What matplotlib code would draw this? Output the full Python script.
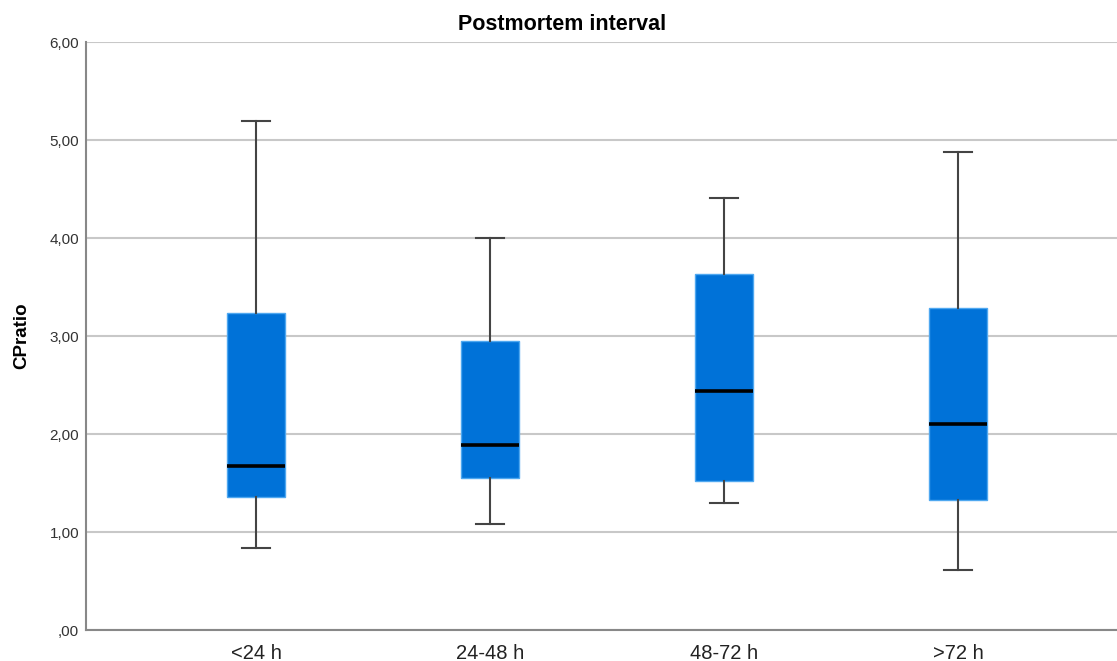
import matplotlib
matplotlib.use("Agg")
import matplotlib.pyplot as plt
from matplotlib.ticker import FuncFormatter

categories = ["<24 h", "24-48 h", "48-72 h", ">72 h"]
whisker_low = [0.84, 1.08, 1.30, 0.61]
q1 = [1.36, 1.55, 1.52, 1.33]
median = [1.67, 1.89, 2.44, 2.10]
q3 = [3.23, 2.95, 3.63, 3.29]
whisker_high = [5.19, 4.00, 4.41, 4.88]
y_ticks = [0, 1, 2, 3, 4, 5, 6]

plt.rcParams['font.family'] = ['Liberation Sans', 'DejaVu Sans']

fig = plt.figure(figsize=(11.17, 6.61), dpi=100)
ax = fig.add_axes([86/1117, 1 - 630/661, (1117-86)/1117, (630-42)/661])

stats = []
for i, c in enumerate(categories):
    stats.append(dict(label=c, whislo=whisker_low[i], q1=q1[i], med=median[i],
                      q3=q3[i], whishi=whisker_high[i], fliers=[]))

positions = list(range(len(categories)))
ax.bxp(stats, positions=positions, widths=0.248, patch_artist=True,
       showfliers=False, manage_ticks=False,
       boxprops=dict(facecolor='#0072D8', edgecolor='#4FA8F0', linewidth=1.0),
       medianprops=dict(color='#000000', linewidth=2.6, solid_capstyle='butt'),
       whiskerprops=dict(color='#444444', linewidth=1.5),
       capprops=dict(color='#444444', linewidth=1.5),
       capwidths=0.12, zorder=3)

ax.set_xlim(-0.727, 3.68)
ax.set_ylim(0, 6)
ax.set_yticks(y_ticks)
def fmt(v, pos):
    s = f"{v:.2f}".replace('.', ',')
    if s.startswith('0'):
        s = s[1:]
    return s
ax.yaxis.set_major_formatter(FuncFormatter(fmt))
ax.set_xticks(positions)
ax.set_xticklabels(categories, fontsize=14.5, color='#222222')
ax.tick_params(axis='y', labelsize=11, colors='#333333', length=0, pad=5)
ax.tick_params(axis='x', length=0, pad=10)

ax.yaxis.grid(True, color='#C8C8C8', linewidth=1.5, zorder=0)
ax.set_axisbelow(True)
for s in ['top', 'right']:
    ax.spines[s].set_visible(False)
for s in ['left', 'bottom']:
    ax.spines[s].set_color('#888888')
    ax.spines[s].set_linewidth(1.5)

ax.set_ylabel("CPratio", fontsize=13.5, fontweight='bold', labelpad=14)
fig.text(562/1117, 1 - 25/661, "Postmortem interval", fontsize=15.5,
         fontweight='bold', ha='center', va='center')

fig.savefig("out.png", dpi=100)
